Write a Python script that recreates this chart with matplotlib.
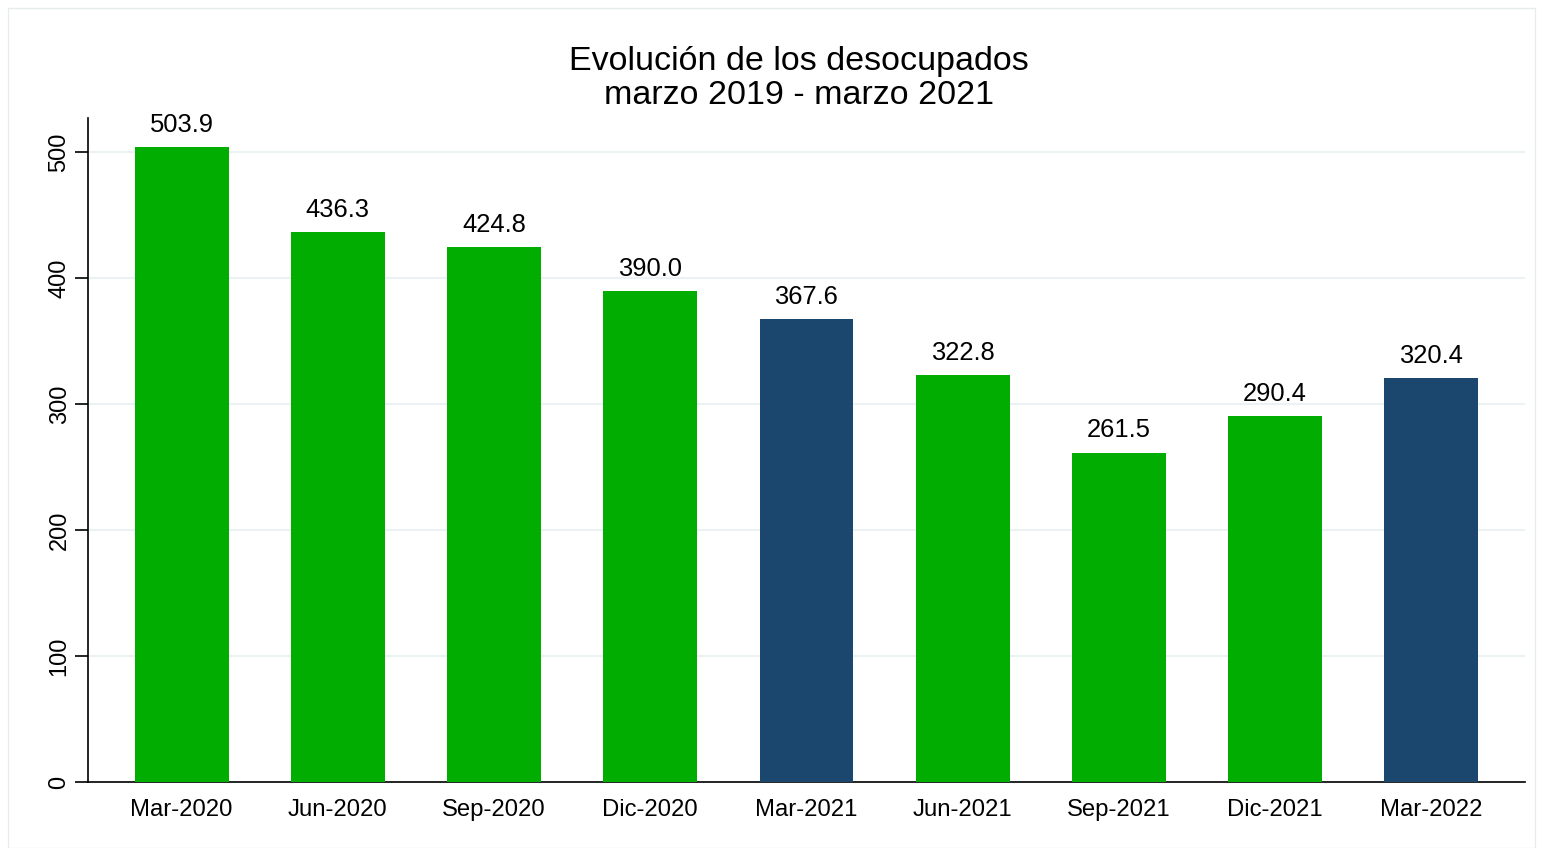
import matplotlib.pyplot as plt
from matplotlib.patches import Rectangle

plt.rcParams['font.family'] = ['Liberation Sans', 'DejaVu Sans']

# ---------------- DATOS ----------------
periodos = ["Mar-2020", "Jun-2020", "Sep-2020", "Dic-2020", "Mar-2021",
            "Jun-2021", "Sep-2021", "Dic-2021", "Mar-2022"]
desocupados = [503.9, 436.3, 424.8, 390.0, 367.6, 322.8, 261.5, 290.4, 320.4]
destacado = [False, False, False, False, True, False, False, False, True]
y_ticks = [0, 100, 200, 300, 400, 500]

verde = "#00AD00"
azul = "#1B466D"

# ---------------- FIGURA ----------------
fig = plt.figure(figsize=(15.43, 8.48), dpi=100)
fig.patches.append(Rectangle((0.005, 0.0), 0.99, 0.99, transform=fig.transFigure,
                             fill=False, edgecolor="#E6ECEC", linewidth=1))
ax = fig.add_axes([0.057, 0.0778, 0.9313, 0.783])

colores = [azul if d else verde for d in destacado]
x = list(range(len(periodos)))
bars = ax.bar(x, desocupados, width=0.6, color=colores, zorder=3)

for b, v in zip(bars, desocupados):
    ax.text(b.get_x() + b.get_width() / 2, v + 8, f"{v:.1f}",
            ha="center", va="bottom", fontsize=18.4, zorder=4)

ax.set_xlim(-0.6, 8.6)
ax.set_ylim(0, 527)
ax.set_xticks(x)
ax.set_xticklabels(periodos, fontsize=17.2)
ax.set_yticks(y_ticks)
ax.set_yticklabels([str(t) for t in y_ticks], fontsize=17, rotation=90, va="center")
ax.tick_params(axis="x", length=0, pad=12)
ax.tick_params(axis="y", length=9.5, width=1.2, pad=3)

ax.grid(axis="y", color="#EAF2F3", linewidth=1.5, zorder=0)
for s in ["top", "right"]:
    ax.spines[s].set_visible(False)
ax.spines["left"].set_linewidth(1.2)
ax.spines["bottom"].set_linewidth(1.2)

fig.text(0.518, 0.907, "Evolución de los desocupados\nmarzo 2019 - marzo 2021",
         ha="center", va="center", fontsize=24.5, linespacing=1.12)

fig.savefig("out.png", dpi=100)
